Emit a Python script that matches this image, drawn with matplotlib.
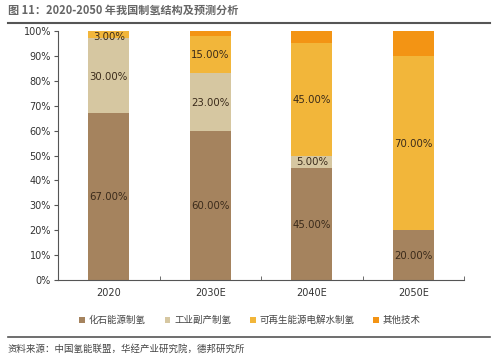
import matplotlib.pyplot as plt
from matplotlib.lines import Line2D
import numpy as np

plt.rcParams['font.family'] = ['Noto Sans CJK SC', 'DejaVu Sans']

years = ["2020", "2030E", "2040E", "2050E"]
fossil = [67, 60, 45, 20]
byproduct = [30, 23, 5, 0]
renewable = [3, 15, 45, 70]
other = [0, 2, 5, 10]

series_names = ["化石能源制氢", "工业副产制氢", "可再生能源电解水制氢", "其他技术"]
colors = ["#A5835E", "#D6C7A1", "#F2B63A", "#F39414"]


def main():
    fig = plt.figure(figsize=(5.0, 3.59), dpi=100)
    ax = fig.add_axes([0.116, 0.22, 0.812, 0.6936])

    x = np.arange(len(years))
    bottom = np.zeros(len(years))
    data = [fossil, byproduct, renewable, other]
    for i, (vals, name, c) in enumerate(zip(data, series_names, colors)):
        vals = np.array(vals, dtype=float)
        bars = ax.bar(x, vals, width=0.4, bottom=bottom, color=c, label=name)
        if i < 3:
            for b, v, b0 in zip(bars, vals, bottom):
                if v > 0:
                    ax.text(b.get_x() + b.get_width() / 2, b0 + v / 2 - (0.3 if v > 4 else 0.8),
                            f"{v:.2f}%", ha="center", va="center",
                            fontsize=7.3, color="#3a2a1a", family="DejaVu Sans")
        bottom += vals

    ax.set_xlim(-0.5, 3.5)
    ax.set_ylim(0, 100)
    ax.set_yticks(range(0, 101, 10))
    ax.set_yticklabels([f"{t}%" for t in range(0, 101, 10)], fontsize=7, color="#333333",
                       family="DejaVu Sans")
    ax.set_xticks(x)
    ax.set_xticklabels(years, fontsize=7, color="#333333", family="DejaVu Sans")
    ax.tick_params(axis="x", length=0, pad=6)
    ax.set_xticks([0.5, 1.5, 2.5, 3.5], minor=True)
    ax.tick_params(axis="x", which="minor", direction="in", length=3, color="#555555")
    ax.tick_params(axis="y", length=3, color="#555555", pad=2)
    for s in ["top", "right"]:
        ax.spines[s].set_visible(False)
    for s in ["left", "bottom"]:
        ax.spines[s].set_color("#555555")
        ax.spines[s].set_linewidth(0.8)

    fig.text(0.016, 0.972, "图 11：2020-2050 年我国制氢结构及预测分析", fontsize=8,
             fontweight="bold", color="#666666", va="center")
    fig.add_artist(Line2D([0.016, 0.98], [0.937, 0.937], color="#555555", lw=1.5))

    handles, labels = ax.get_legend_handles_labels()
    fig.legend(handles, labels, loc="center", bbox_to_anchor=(0.5, 0.108), ncol=4,
               frameon=False, fontsize=6.8, handlelength=0.6, handleheight=0.6,
               handletextpad=0.4, columnspacing=2.0, labelcolor="#444444")

    fig.add_artist(Line2D([0.016, 0.98], [0.062, 0.062], color="#555555", lw=1.2))
    fig.text(0.016, 0.028, "资料来源：中国氢能联盟，华经产业研究院，德邦研究所", fontsize=6.8,
             color="#444444", va="center")

    fig.savefig("out.png", dpi=100, facecolor="white")


if __name__ == "__main__":
    main()
